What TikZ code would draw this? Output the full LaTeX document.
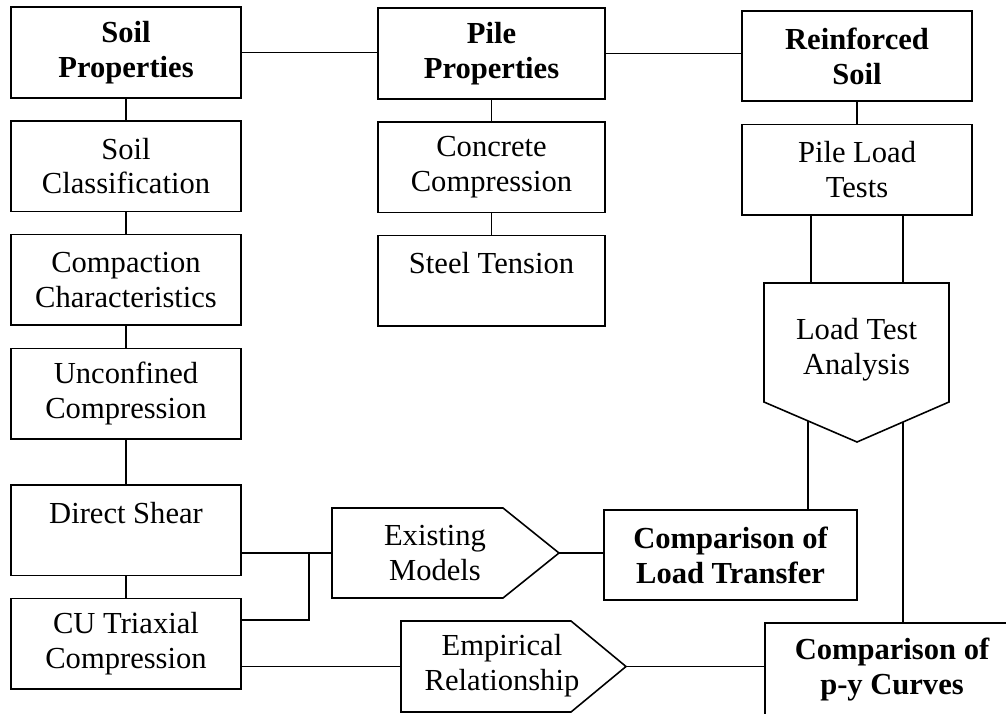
\documentclass[tikz,border=0pt]{standalone}
\usepackage{fontspec}
\setmainfont{Liberation Serif}
\usetikzlibrary{positioning, backgrounds}

\newcommand{\chartfont}{\fontsize{17.4}{19.9}\selectfont}

\tikzset{
  box/.style={draw, fill=white, line width=0.9pt, align=center, font=\chartfont,
              minimum width=4.6cm, minimum height=1.81cm, inner sep=2pt},
  bbox/.style={box, font=\chartfont\bfseries},
  pent/.style={draw, fill=white, line width=0.9pt},
  pentlabel/.style={align=center, font=\chartfont, inner sep=0pt},
  link/.style={line width=0.9pt},
}

\begin{document}
\begin{tikzpicture}[x=0.02cm, y=-0.02cm]
\useasboundingbox (0,0) rectangle (1006,713);
\clip (0,0) rectangle (1006,713);

% soil column
\node [bbox] (sp) at (126,52.5) {Soil\\Properties};
\node [box, below=0.43cm of sp] (sc) {Soil\\Classification};
\node [box, below=0.43cm of sc] (cc) {Compaction\\Characteristics};
\node [box, below=0.44cm of cc] (uc) {Unconfined\\Compression};
\node [box, below=0.89cm of uc] (ds) {Direct Shear\\\phantom{x}};
\node [box, below=0.43cm of ds] (cu) {CU Triaxial\\Compression};

% pile column
\node [bbox, minimum width=4.54cm] (pp) at (491.5,53.5) {Pile\\Properties};
\node [box, minimum width=4.54cm, below=0.43cm of pp] (conc) {Concrete\\Compression};
\node [box, minimum width=4.54cm, below=0.43cm of conc] (st) {Steel Tension\\\phantom{x}};

% reinforced soil column
\node [bbox] (rs) at (857,56) {Reinforced\\Soil};
\node [box, below=0.43cm of rs] (plt) {Pile Load\\Tests};

\draw [pent] (764,283) -- (949,283) -- (949,402) -- (857,442) -- (764,402) -- cycle;
\node [pentlabel] (lta) at (856.5,350) {Load Test\\Analysis};

\draw [pent] (332,508) -- (503,508) -- (559,553) -- (503,598) -- (332,598) -- cycle;
\node [pentlabel] (em) at (435,553) {Existing\\Models};
\coordinate (em in) at (332,553);
\coordinate (em tip) at (559,553);

\draw [pent] (401,621) -- (571,621) -- (626,666.5) -- (571,712) -- (401,712) -- cycle;
\node [pentlabel] (emp) at (502,666) {Empirical\\Relationship};
\coordinate (emp in) at (401,666.5);
\coordinate (emp tip) at (626,666.5);

% comparisons
\node [bbox, minimum width=5.06cm, minimum height=1.8cm] (clt) at (730.5,555) {Comparison of\\Load Transfer};
\node [bbox, minimum width=5.08cm, minimum height=1.88cm] (py) at (892,670) {Comparison of\\p-y Curves};

\coordinate (jn) at (309,553);

\begin{scope}[on background layer]
\draw [link] (sp.east) -- (sp.east -| pp.west);
\draw [link] (pp.east) -- (pp.east -| rs.west);
\foreach \a/\b in {sp/sc, sc/cc, cc/uc, uc/ds, ds/cu, pp/conc, conc/st, rs/plt}
  \draw [link] (\a.south) -- (\b.north);
\draw [link] ([xshift=-0.92cm]plt.south) -- ([xshift=-0.92cm]plt.south |- lta.center);
\draw [link] ([xshift=0.92cm]plt.south) -- ([xshift=0.92cm]plt.south |- lta.center);
\draw [link] ([xshift=1.55cm]clt.north) -- ([xshift=1.55cm]clt.north |- lta.center);
\draw [link] ([xshift=0.22cm]py.north) -- ([xshift=0.22cm]py.north |- lta.center);
\draw [link] (ds.east |- em in) -- (em in);
\draw [link] (jn) |- ([yshift=-0.44cm]cu.north east);
\draw [link] (cu.east |- emp in) -- (emp in);
\draw [link] (em tip) -- (em tip -| clt.west);
\draw [link] (emp tip) -- (emp tip -| py.west);
\end{scope}
\end{tikzpicture}
\end{document}
